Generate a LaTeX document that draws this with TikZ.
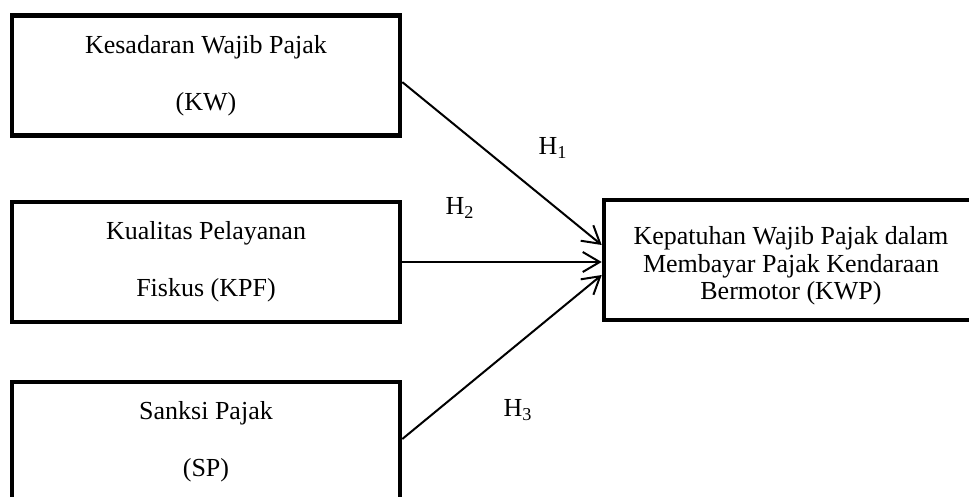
\documentclass[tikz,border=0pt]{standalone}
\usepackage{fontspec}
\setmainfont{Liberation Serif}
\usepackage{tikz}
\usetikzlibrary{arrows.meta,positioning}
\tikzstyle{arrow} = [line width=1pt,-{Straight Barb[length=8.5pt,width=10pt,line width=1pt]}]
\tikzstyle{varbox} = [rectangle, minimum width=194pt, minimum height=60pt, text centered, align=center, draw=black, line width=2.3pt, font=\fontsize{13}{13.8}\selectfont]

\begin{document}
\begin{tikzpicture}[x=0.5pt,y=-0.5pt]
\useasboundingbox (0,0) rectangle (969,497);

% Independent variables
\node (kw) [varbox] at (206,75.5) {Kesadaran Wajib Pajak\\[14.6pt](KW)};
\node (kpf) [varbox, below of=kw, node distance=93.25pt] {Kualitas Pelayanan\\[14.6pt]Fiskus (KPF)};
\node (sp) [varbox, below of=kpf, node distance=90pt] {Sanksi Pajak\\[14.6pt](SP)};

% Dependent variable
\node (kwp) [varbox, right of=kpf, node distance=292.5pt, minimum width=187pt, yshift=1pt] {\rule{0pt}{15pt}Kepatuhan Wajib Pajak dalam\\Membayar Pajak Kendaraan\\Bermotor (KWP)};

% Hypotheses
\draw[arrow] ([yshift=-3.3pt]kw.east) -- ([yshift=7.5pt]kwp.west);
\draw[arrow] (kpf.east) -- (kpf.east -| kwp.west);
\draw[arrow] ([yshift=1.5pt]sp.east) -- ([yshift=-7.5pt]kwp.west);

\node (h1) at (553,148) {\fontsize{13}{13.8}\selectfont H\textsubscript{1}};
\node (h2) at (460,208) {\fontsize{13}{13.8}\selectfont H\textsubscript{2}};
\node (h3) at (518,410) {\fontsize{13}{13.8}\selectfont H\textsubscript{3}};
\end{tikzpicture}
\end{document}
